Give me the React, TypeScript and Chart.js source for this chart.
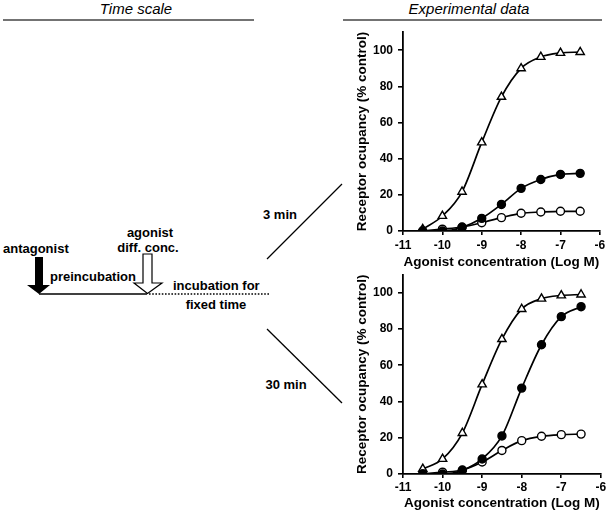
import React, { useEffect, useRef } from "react";
import { Chart, registerables } from "chart.js";

Chart.register(...registerables);

// ---- data ----
const logConc = [-10.5, -10, -9.5, -9, -8.5, -8, -7.5, -7, -6.5];
const xTicksMin = -11;
const xTicksMax = -6;
const yTickValues = [0, 20, 40, 60, 80, 100];

// 3 min incubation
const min3Control = [1, 8.3, 21.7, 49, 74.2, 90, 96.3, 98.5, 99];
const min3Filled = [0, 0, 2, 7, 14.7, 23.6, 28.5, 31.3, 31.9];
const min3Open = [0, 1, 2.2, 4.6, 7.4, 9.8, 10.5, 10.9, 10.9];

// 30 min incubation
const min30Control = [2.8, 8.3, 22.6, 49.4, 74.4, 91, 96.7, 98.5, 99];
const min30Filled = [0, 0, 2, 8.3, 21, 47.4, 71.3, 86.8, 92.3];
const min30Open = [0, 1, 2.2, 6.6, 13, 18.4, 20.8, 21.7, 22];

const FONT = "'Liberation Sans', Arial, Helvetica, sans-serif";

function pts(ys: number[]) {
  return logConc.map((x, i) => ({ x, y: ys[i] }));
}

function makeDatasets(control: number[], filled: number[], open: number[]) {
  const base = {
    showLine: true,
    borderColor: "#000",
    borderWidth: 1.7,
    cubicInterpolationMode: "monotone" as const,
    pointBorderColor: "#000",
    pointBorderWidth: 1.4,
  };
  return [
    { ...base, data: pts(filled), pointStyle: "circle", pointRadius: 4, pointBackgroundColor: "#000" },
    { ...base, data: pts(open), pointStyle: "circle", pointRadius: 4, pointBackgroundColor: "#fff" },
    { ...base, data: pts(control), pointStyle: "triangle", pointRadius: 4.8, pointBackgroundColor: "#fff" },
  ];
}

type P = { padTop: number; xH: number; xTickPad: number; xTitlePad: number };

function buildConfig(datasets: any[], p: P): any {
  return {
    type: "line",
    data: { datasets },
    options: {
      responsive: false,
      animation: false,
      layout: { padding: { top: p.padTop, right: 6, left: 0, bottom: 0 } },
      plugins: { legend: { display: false }, tooltip: { enabled: false } },
      scales: {
        x: {
          type: "linear",
          min: xTicksMin,
          max: xTicksMax,
          ticks: {
            stepSize: 1,
            color: "#000",
            font: { size: 12, weight: "bold", family: FONT },
            padding: p.xTickPad,
            maxRotation: 0,
          },
          grid: { display: true, drawOnChartArea: false, drawTicks: true, tickLength: 4, color: "#000", lineWidth: 1.6 },
          border: { display: true, color: "#000", width: 1.8 },
          title: {
            display: true,
            text: "Agonist concentration (Log M)",
            color: "#000",
            font: { size: 13.5, weight: "bold", family: FONT },
            padding: p.xTitlePad,
          },
          afterFit: (s: any) => {
            s.height = p.xH;
          },
        },
        y: {
          type: "linear",
          min: 0,
          max: 110,
          ticks: { stepSize: 20, color: "#000", font: { size: 12, weight: "bold", family: FONT }, padding: 5 },
          afterBuildTicks: (s: any) => {
            s.ticks = yTickValues.map((v) => ({ value: v }));
          },
          grid: { display: true, drawOnChartArea: false, drawTicks: true, tickLength: 5, color: "#000", lineWidth: 1.6 },
          border: { display: true, color: "#000", width: 1.8 },
          title: {
            display: true,
            text: "Receptor ocupancy (% control)",
            color: "#000",
            font: { size: 13.5, weight: "bold", family: FONT },
            padding: 9,
          },
          afterFit: (s: any) => {
            s.width = 58;
          },
        },
      },
    },
  };
}

function ChartBox(props: { left: number; top: number; width: number; height: number; datasets: any[]; p: P }) {
  const ref = useRef<HTMLCanvasElement | null>(null);
  useEffect(() => {
    if (!ref.current) return;
    const c = new Chart(ref.current, buildConfig(props.datasets, props.p));
    return () => c.destroy();
  }, []);
  return (
    <canvas
      ref={ref}
      width={props.width}
      height={props.height}
      style={{ position: "absolute", left: props.left, top: props.top, width: props.width, height: props.height }}
    />
  );
}

export default function App() {
  const t = { fontFamily: FONT, fontWeight: "bold" as const, fontSize: 13, fill: "#000" };
  return (
    <div style={{ position: "absolute", left: 0, top: 0, width: 609, height: 514, background: "#fff", overflow: "hidden" }}>
      <svg width={609} height={514} style={{ position: "absolute", left: 0, top: 0 }}>
        {/* headers */}
        <text x={136} y={8} textAnchor="middle" dominantBaseline="central" fontFamily={FONT} fontStyle="italic" fontSize={15} fill="#000">
          Time scale
        </text>
        <line x1={3} y1={20} x2={254} y2={20} stroke="#444" strokeWidth={1.5} />
        <text x={469} y={8} textAnchor="middle" dominantBaseline="central" fontFamily={FONT} fontStyle="italic" fontSize={15} fill="#000">
          Experimental data
        </text>
        <line x1={343} y1={20} x2={602} y2={20} stroke="#444" strokeWidth={1.5} />

        {/* time scale diagram */}
        <text x={3} y={248} dominantBaseline="central" {...t}>antagonist</text>
        <polygon points="35,257 43,257 43,285 50,285 39,294 27,285 35,285" fill="#000" />
        <line x1={39} y1={294} x2={147} y2={294} stroke="#000" strokeWidth={1.5} />
        <text x={50} y={276} dominantBaseline="central" {...t}>preincubation</text>

        <text x={150} y={232} textAnchor="middle" dominantBaseline="central" {...t}>agonist</text>
        <text x={148} y={247} textAnchor="middle" dominantBaseline="central" {...t}>diff. conc.</text>
        <polygon
          points="143,254 152,254 152,283 162,283 147.5,293.5 134,283 143,283"
          fill="#fff"
          stroke="#000"
          strokeWidth={1.2}
        />
        <line x1={149} y1={294} x2={270} y2={294} stroke="#000" strokeWidth={1.6} strokeDasharray="1.6,1.6" />
        <text x={173} y={285} dominantBaseline="central" {...t}>incubation for</text>
        <text x={216} y={304} textAnchor="middle" dominantBaseline="central" {...t}>fixed time</text>

        <text x={280} y={214} textAnchor="middle" dominantBaseline="central" {...t}>3 min</text>
        <line x1={267} y1={259} x2={342} y2={184} stroke="#000" strokeWidth={1.3} />
        <text x={286} y={384} textAnchor="middle" dominantBaseline="central" {...t}>30 min</text>
        <line x1={267} y1={329} x2={342} y2={403} stroke="#000" strokeWidth={1.3} />
      </svg>

      <ChartBox
        left={345}
        top={20}
        width={264}
        height={251}
        datasets={makeDatasets(min3Control, min3Filled, min3Open)}
        p={{ padTop: 12, xH: 40, xTickPad: 3.8, xTitlePad: 0.9 }}
      />
      <ChartBox
        left={345}
        top={262}
        width={264}
        height={252}
        datasets={makeDatasets(min30Control, min30Filled, min30Open)}
        p={{ padTop: 12.6, xH: 40, xTickPad: 2.8, xTitlePad: 2.9 }}
      />
    </div>
  );
}
